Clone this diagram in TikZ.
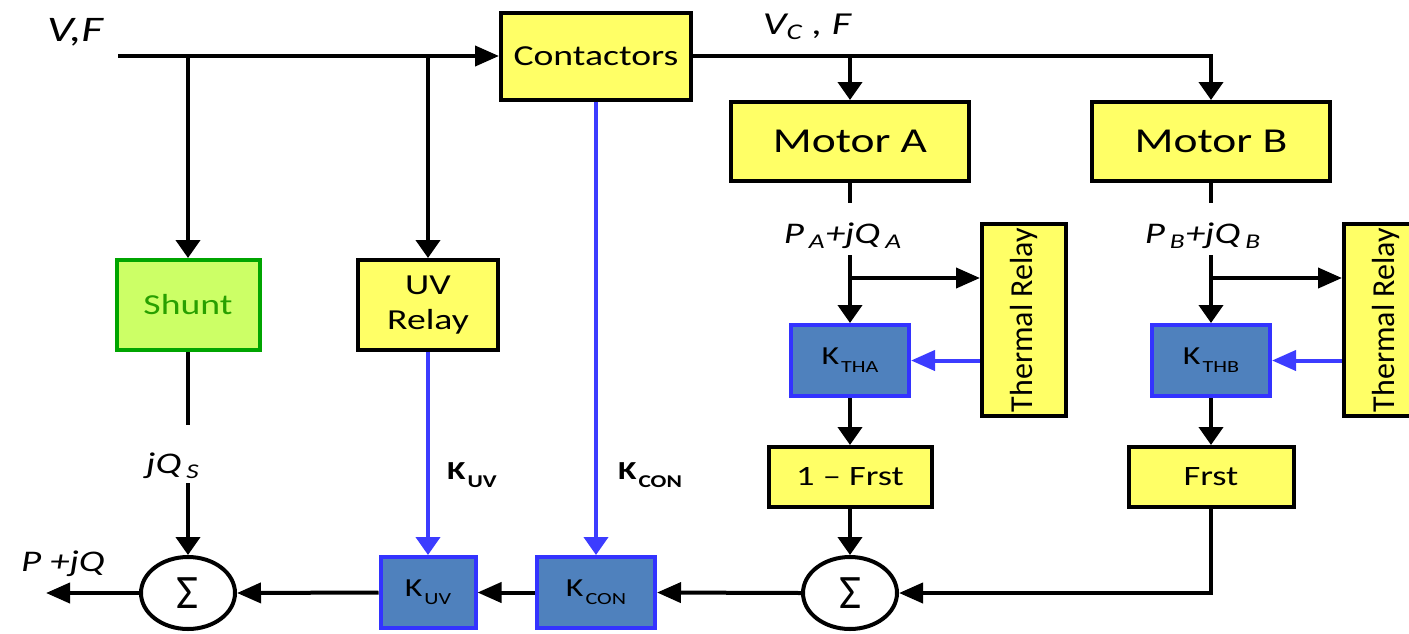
\documentclass[tikz,border=0pt]{standalone}
\usepackage{fontspec}
\setmainfont{Carlito}[FakeStretch=1.3]
\newfontfamily\plainfont{Carlito}
\usetikzlibrary{arrows.meta,shapes.geometric}
\definecolor{yel}{RGB}{255,255,102}
\definecolor{shuntfill}{RGB}{204,255,102}
\definecolor{shuntdraw}{RGB}{0,165,0}
\definecolor{shunttext}{RGB}{40,160,0}
\definecolor{kfill}{RGB}{79,129,189}
\definecolor{kdraw}{RGB}{51,51,255}
\definecolor{bl}{RGB}{60,60,255}
\newcommand{\Kbox}[1]{\fontsize{13}{14}\selectfont K\kern1pt\raisebox{-4pt}{\fontsize{8.5}{9}\selectfont #1}}
\newcommand{\Klab}[1]{\bfseries\fontsize{13}{14}\selectfont K\kern1pt\raisebox{-4pt}{\fontsize{9}{10}\selectfont #1}}
\tikzset{
  ybox/.style={draw=black, line width=2pt, fill=yel, inner sep=0pt, align=center},
  kbox/.style={draw=kdraw, line width=2pt, fill=kfill, inner sep=0pt, minimum height=35.5pt},
  sumnode/.style={ellipse, draw=black, line width=2pt, fill=white, minimum width=47pt, minimum height=36pt, inner sep=0pt, font=\plainfont\fontsize{24}{26}\selectfont},
  conn/.style={line width=2pt, draw=black},
  bconn/.style={line width=2pt, draw=bl},
  arrv/.style={-{Triangle[length=9pt,width=12pt]}},
  arrh/.style={-{Triangle[length=12pt,width=10pt]}},
  lab/.style={inner sep=0pt, font=\itshape\fontsize{15}{17}\selectfont}
}
\begin{document}
\begin{tikzpicture}[x=0.5pt,y=-0.5pt]
\useasboundingbox (0,0) rectangle (1409,633);
% boxes
\node[ybox, minimum width=95pt, minimum height=43.5pt, font=\fontsize{14.5}{16}\selectfont] (con) at (596,56) {Contactors};
\node[ybox, minimum width=119pt, minimum height=39.5pt, font=\fontsize{17.5}{20}\selectfont] (motA) at (850,141.5) {Motor A};
\node[ybox, minimum width=119pt, minimum height=39.5pt, font=\fontsize{17.5}{20}\selectfont] (motB) at (1211,141.5) {Motor B};
\node[draw=shuntdraw, line width=2pt, fill=shuntfill, text=shunttext, inner sep=0pt, minimum width=71.5pt, minimum height=45pt, font=\fontsize{14.5}{16}\selectfont] (shunt) at (188,305) {Shunt};
\node[ybox, minimum width=70pt, minimum height=45pt, font=\fontsize{14.5}{17.5}\selectfont] (uv) at (428,305) {UV\\Relay};
\node[ybox, minimum width=96pt, minimum height=42pt, rotate=90, font=\plainfont\fontsize{16}{18}\selectfont] (trA) at (1024,320) {Thermal Relay};
\node[ybox, minimum width=96pt, minimum height=42pt, rotate=90, font=\plainfont\fontsize{16}{18}\selectfont] (trB) at (1386,320) {Thermal Relay};
\node[kbox, minimum width=59pt] (kA) at (850,360.5) {\Kbox{THA}};
\node[kbox, minimum width=59pt] (kB) at (1211,360.5) {\Kbox{THB}};
\node[ybox, minimum width=81.5pt, minimum height=30pt, font=\fontsize{14}{16}\selectfont] (oneF) at (850,477) {1 – Frst};
\node[ybox, minimum width=82.5pt, minimum height=30pt, font=\fontsize{14}{16}\selectfont] (frst) at (1211,477) {Frst};
\node[sumnode] (sigR) at (850,593) {Σ};
\node[sumnode] (sigL) at (188,593) {Σ};
\node[kbox, minimum width=47.5pt] (kuv) at (428,592.5) {\Kbox{UV}};
\node[kbox, minimum width=59pt] (kcon) at (596,592.5) {\Kbox{CON}};
% labels
\node[lab, font=\itshape\fontsize{18}{20}\selectfont] (lvf) at (75,32) {V,F};
\node[lab, font=\itshape\fontsize{16}{18}\selectfont] (lvc) at (807,27) {V\textsubscript{C} , F};
\node[lab] (lpa) at (843,236) {P\,\textsubscript{A}+jQ\,\textsubscript{A}};
\node[lab] (lpb) at (1203,236) {P\,\textsubscript{B}+jQ\,\textsubscript{B}};
\node[lab] (lqs) at (173,466) {jQ\,\textsubscript{S}};
\node[lab] (lpq) at (63,564) {P +jQ};
\node[inner sep=0pt] (lkuv) at (472,475) {\Klab{UV}};
\node[inner sep=0pt] (lkcon) at (650,475) {\Klab{CON}};
% coordinates
\coordinate (vin) at (118,56);
\coordinate (vout) at (46,593);
\coordinate (pa1) at (850,203);
\coordinate (pa2) at (850,255);
\coordinate (pb1) at (1211,203);
\coordinate (pb2) at (1211,255);
\coordinate (brA) at (850,278);
\coordinate (brB) at (1211,278);
\coordinate (qs1) at (188,425);
\coordinate (qs2) at (188,483);
% connectors
\draw[conn, arrh] (vin) -- (con.west);
\draw[conn, arrv] (vin -| shunt.north) -- (shunt.north);
\draw[conn, arrv] (vin -| uv.north) -- (uv.north);
\draw[conn, arrv] (con.east) -| (motB.north);
\draw[conn, arrv] (con.east -| motA.north) -- (motA.north);
\draw[conn] (motA.south) -- (pa1);
\draw[conn, arrv] (pa2) -- (kA.north);
\draw[conn] (motB.south) -- (pb1);
\draw[conn, arrv] (pb2) -- (kB.north);
\draw[conn, arrh] (brA) -- (brA -| trA.north);
\draw[conn, arrh] (brB) -- (brB -| trB.north);
\draw[bconn, arrh] (trA.north |- kA.east) -- (kA.east);
\draw[bconn, arrh] (trB.north |- kB.east) -- (kB.east);
\draw[conn, arrv] (kA.south) -- (oneF.north);
\draw[conn, arrv] (kB.south) -- (frst.north);
\draw[conn, arrv] (oneF.south) -- (sigR.north);
\draw[conn, arrh] (frst.south) |- (sigR.east);
\draw[conn, arrh] (sigR.west) -- (kcon.east);
\draw[conn, arrh] (kcon.west) -- (kuv.east);
\draw[conn, arrh] (kuv.west) -- (sigL.east);
\draw[conn, arrh] (sigL.west) -- (vout);
\draw[conn] (shunt.south) -- (qs1);
\draw[conn, arrv] (qs2) -- (sigL.north);
\draw[bconn, arrv] (uv.south) -- (kuv.north);
\draw[bconn, arrv] (con.south) -- (kcon.north);
\end{tikzpicture}
\end{document}
